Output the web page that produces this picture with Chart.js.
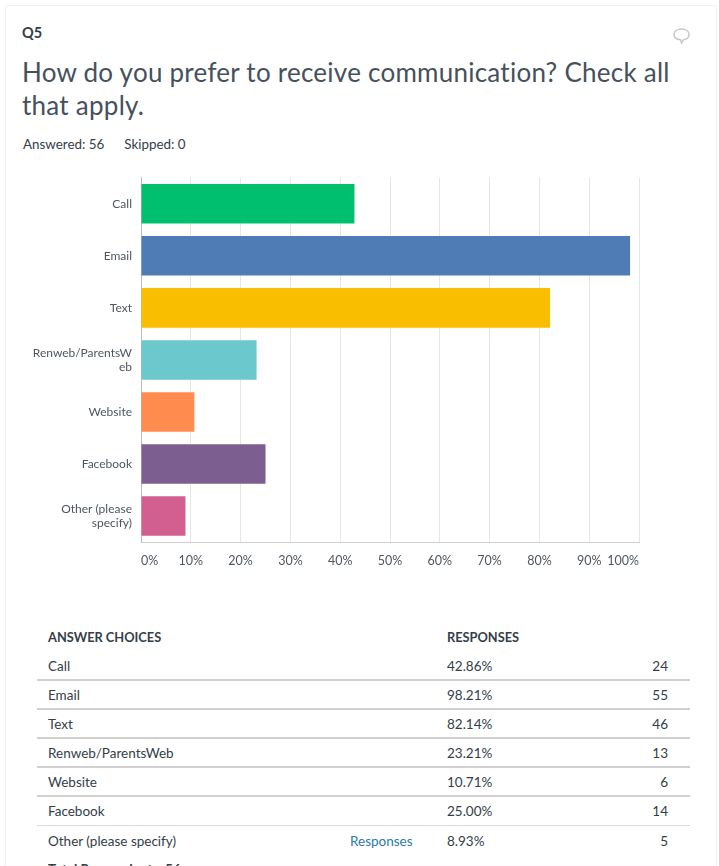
<!DOCTYPE html>
<html>
<head>
<meta charset="utf-8">
<title>Q5</title>
<script src="https://cdn.jsdelivr.net/npm/chart.js@4"></script>
<style>
  html, body { margin: 0; padding: 0; background: #fff; overflow: hidden; height: 866px; }
  body { font-family: Lato, "Noto Sans", sans-serif; color: #333e48; position: relative; width: 719px; }
  .card { position: absolute; left: 5px; top: 5px; width: 712px; height: 900px; border: 1px solid #f1f1f1; border-radius: 3px; box-sizing: border-box; }
  .qnum { position: absolute; left: 22px; top: 24px; font-size: 14.5px; font-weight: 700; }
  .title { position: absolute; left: 22px; top: 56px; width: 670px; font-size: 26px; line-height: 33px; color: #46515c; font-family: Lato, sans-serif; letter-spacing: .25px; }
  .meta { position: absolute; left: 23px; top: 136px; font-size: 13.4px; }
  .meta span { margin-right: 20px; }
  .icon { position: absolute; left: 672px; top: 26px; }
  #wrap { position: absolute; left: 0; top: 155px; width: 650px; height: 425px; }
  table { position: absolute; left: 37px; top: 622px; width: 653px; border-collapse: collapse; table-layout: fixed; font-size: 13.5px; }
  th { text-align: left; font-size: 12.8px; font-weight: 700; height: 30px; padding: 0; }
  td { height: 27px; padding: 0; border-bottom: 2px solid #d0d0d0; }
  tr.last td { border-bottom: 1px solid #d9d9d9; height: 28px; }
  tr.end td { border-bottom: 0; height: 29px; }
  tr.none td { border-bottom: 0; }
  .name { padding-left: 11px; }
  .count { text-align: right; padding-right: 22px; }
  a { color: #2a7ba8; text-decoration: none; }
</style>
</head>
<body>
<div class="card"></div>
<div class="qnum">Q5</div>
<svg class="icon" width="20" height="20" viewBox="0 0 20 20">
  <path d="M9.5 3c4.4 0 7.5 2.2 7.5 5.5 0 2.8-2.2 4.8-5.5 5.3L9.5 17l-1-3.2C4.8 13.4 2 11.400 2 8.500 2 5.200 5.100 3 9.500 3z" fill="none" stroke="#c4c9cc" stroke-width="1.500"/>
</svg>
<div class="title">How do you prefer to receive communication? Check all that apply.</div>
<div class="meta"><span>Answered: 56</span>Skipped: 0</div>
<div id="wrap"><canvas id="myChart"></canvas></div>
<table id="tabla">
  <colgroup><col style="width:313px"><col style="width:97px"><col style="width:150px"><col></colgroup>
  <thead><tr><th class="name">ANSWER CHOICES</th><th></th><th>RESPONSES</th><th></th></tr></thead>
  <tbody></tbody>
</table>
<script>
var categorias = ["Call", "Email", "Text", "Renweb/ParentsWeb", "Website", "Facebook", "Other (please specify)"]
var etiquetas = ["Call", "Email", "Text", ["Renweb/ParentsW", "eb"], "Website", "Facebook", ["Other (please", "specify)"]]
var porcentajes = [42.86, 98.21, 82.14, 23.21, 10.71, 25.00, 8.93]
var cantidades = [24, 55, 46, 13, 6, 14, 5]
var colores = ["#00bf6f", "#507cb6", "#f9be00", "#6bc8cd", "#ff8b4f", "#7d5e90", "#d25f90"]

var chart = new Chart("myChart", {
  type: "bar",
  data: {
    labels: etiquetas,
    datasets: [{
      data: porcentajes,
      backgroundColor: colores,
      barPercentage: 0.76,
      categoryPercentage: 1
    }]
  },
  options: {
    indexAxis: "y",
    responsive: true,
    maintainAspectRatio: false,
    animation: false,
    layout: { padding: { top: 7, right: 0, bottom: 0, left: 0 } },
    plugins: { legend: { display: false }, tooltip: { enabled: false } },
    scales: {
      x: {
        min: 0,
        max: 100,
        afterFit: function(scale) { scale.height = 38 },
        border: { color: "#cfcfcf", width: 1 },
        grid: { color: "#e6e6e6", lineWidth: 1, drawTicks: false },
        ticks: {
          stepSize: 10,
          padding: 11,
          align: "inner",
          maxRotation: 0,
          autoSkip: false,
          color: "#4d5760",
          font: { family: "Lato", size: 12.5 },
          callback: function(v) { return v + "%" }
        }
      },
      y: {
        afterFit: function(scale) { scale.width = 141 },
        border: { color: "#bdbdbd", width: 1 },
        grid: { display: false, drawTicks: false },
        ticks: {
          padding: 9,
          color: "#4d5760",
          font: { family: "Lato", size: 12, lineHeight: 1.15 }
        }
      }
    }
  }
})

const cuerpo = document.querySelector("#tabla tbody")
categorias.forEach(function(nombre, i) {
  const fila = document.createElement("tr")
  if (i == 5) fila.classList.add("last")
  if (i == 6) fila.classList.add("end")
  const link = i == 6 ? '<a href="#">Responses</a>' : ""
  fila.innerHTML = '<td class="name">' + nombre + '</td><td>' + link + '</td><td>' +
    porcentajes[i].toFixed(2) + '%</td><td class="count">' + cantidades[i] + '</td>'
  cuerpo.appendChild(fila)
})
const total = document.createElement("tr")
total.classList.add("none")
total.innerHTML = '<td class="name" colspan="4" style="font-weight:700">Total Respondents: 56</td>'
cuerpo.appendChild(total)
</script>
</body>
</html>
